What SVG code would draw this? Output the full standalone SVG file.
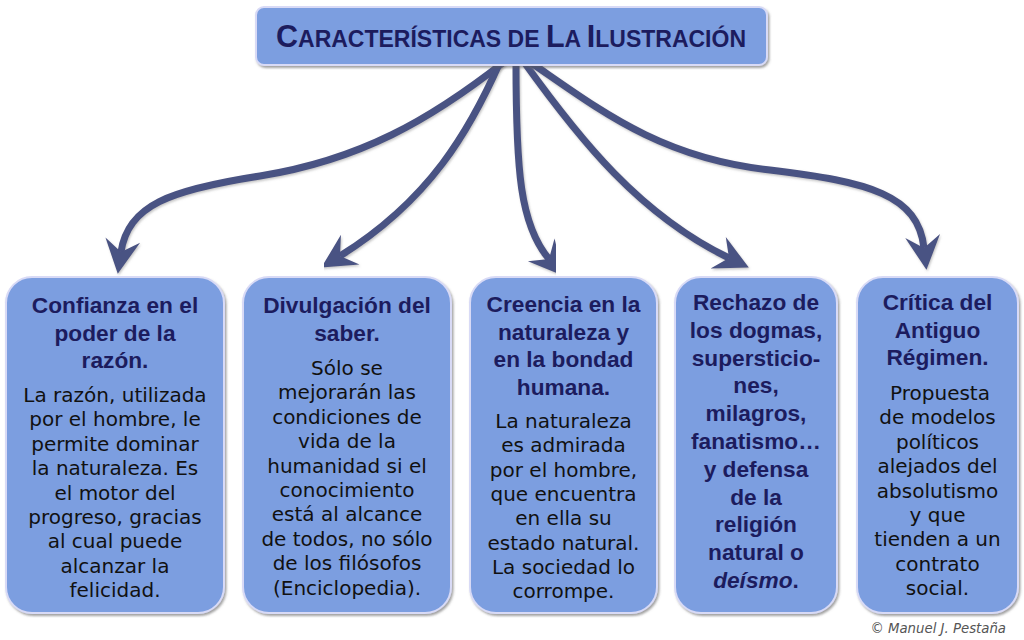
<svg xmlns="http://www.w3.org/2000/svg" width="1024" height="640" viewBox="0 0 1024 640">
<defs>
<filter id="sh" x="-10%" y="-10%" width="130%" height="130%">
<feDropShadow dx="1.5" dy="2" stdDeviation="1.2" flood-color="#555" flood-opacity="0.55"/>
</filter>
<filter id="lsh" x="-10%" y="-10%" width="130%" height="130%">
<feDropShadow dx="1" dy="1.5" stdDeviation="0.8" flood-color="#888" flood-opacity="0.5"/>
</filter>
<marker id="ah" markerUnits="userSpaceOnUse" markerWidth="40" markerHeight="40" viewBox="-14 -20 40 40" refX="0" refY="0" orient="auto">
<path d="M22,0 L-12,-17.5 L0,0 L-12,17.5 Z" fill="#4a5283"/>
</marker>
<style>
.box{fill:#7b9ee0;stroke:#d8daf6;stroke-width:2;filter:url(#sh)}
.hd{font-family:"Liberation Sans",Arial,sans-serif;font-weight:bold;font-size:22.7px;fill:#1c1c5e;text-anchor:middle}
.bd{font-family:"DejaVu Sans",Verdana,sans-serif;font-size:20px;fill:#111;text-anchor:middle}
.cn{fill:none;stroke:#4a5283;stroke-width:7;marker-end:url(#ah);filter:url(#lsh)}
</style>
</defs>
<rect width="1024" height="640" fill="#fff"/>
<g id="connectors">
<path class="cn" d="M504,62 C430,120 360,160 260,176 C170,190 128,205 121,252"/>
<path class="cn" d="M500,62 C470,130 430,200 340,256"/>
<path class="cn" d="M516,62 C516,170 520,225 549,259"/>
<path class="cn" d="M524,62 C580,140 640,215 729,258"/>
<path class="cn" d="M530,62 C600,110 660,158 770,170 C870,182 918,195 924,248"/>
</g>
<g id="title">
<rect class="box" x="256" y="7" width="511" height="58" rx="8"/>
<text x="511" y="47" font-family="'Liberation Sans',Arial,sans-serif" font-weight="bold" font-size="23" fill="#1c1c5e" text-anchor="middle"><tspan font-size="30.5">C</tspan>ARACTERÍSTICAS DE <tspan font-size="30.5">L</tspan>A <tspan font-size="30.5">I</tspan>LUSTRACIÓN</text>
</g>
<g id="n1">
<rect class="box" x="6" y="277" width="218" height="336" rx="26"/>
<text class="hd"><tspan x="115" y="313">Confianza en el</tspan><tspan x="115" y="340.5">poder de la</tspan><tspan x="115" y="368">razón.</tspan></text>
<text class="bd"><tspan x="115" y="402">La razón, utilizada</tspan><tspan x="115" y="426.4">por el hombre, le</tspan><tspan x="115" y="450.8">permite dominar</tspan><tspan x="115" y="475.2">la naturaleza. Es</tspan><tspan x="115" y="499.6">el motor del</tspan><tspan x="115" y="524">progreso, gracias</tspan><tspan x="115" y="548.4">al cual puede</tspan><tspan x="115" y="572.8">alcanzar la</tspan><tspan x="115" y="597.2">felicidad.</tspan></text>
</g>
<g id="n2">
<rect class="box" x="243" y="277" width="208" height="336" rx="26"/>
<text class="hd"><tspan x="347" y="313">Divulgación del</tspan><tspan x="347" y="340.5">saber.</tspan></text>
<text class="bd"><tspan x="347" y="375">Sólo se</tspan><tspan x="347" y="399.4">mejorarán las</tspan><tspan x="347" y="423.8">condiciones de</tspan><tspan x="347" y="448.2">vida de la</tspan><tspan x="347" y="472.6">humanidad si el</tspan><tspan x="347" y="497">conocimiento</tspan><tspan x="347" y="521.4">está al alcance</tspan><tspan x="347" y="545.8">de todos, no sólo</tspan><tspan x="347" y="570.2">de los filósofos</tspan><tspan x="347" y="594.6">(Enciclopedia).</tspan></text>
</g>
<g id="n3">
<rect class="box" x="470" y="277" width="187" height="336" rx="26"/>
<text class="hd"><tspan x="563.5" y="312">Creencia en la</tspan><tspan x="563.5" y="339.5">naturaleza y</tspan><tspan x="563.5" y="367">en la bondad</tspan><tspan x="563.5" y="394.5">humana.</tspan></text>
<text class="bd"><tspan x="563.5" y="428">La naturaleza</tspan><tspan x="563.5" y="452.3">es admirada</tspan><tspan x="563.5" y="476.6">por el hombre,</tspan><tspan x="563.5" y="500.9">que encuentra</tspan><tspan x="563.5" y="525.2">en ella su</tspan><tspan x="563.5" y="549.5">estado natural.</tspan><tspan x="563.5" y="573.8">La sociedad lo</tspan><tspan x="563.5" y="598.1">corrompe.</tspan></text>
</g>
<g id="n4">
<rect class="box" x="675" y="277" width="162" height="336" rx="26"/>
<text class="hd"><tspan x="756" y="310">Rechazo de</tspan><tspan x="756" y="337.8">los dogmas,</tspan><tspan x="756" y="365.6">supersticio-</tspan><tspan x="756" y="393.4">nes,</tspan><tspan x="756" y="421.2">milagros,</tspan><tspan x="756" y="449">fanatismo…</tspan><tspan x="756" y="476.8">y defensa</tspan><tspan x="756" y="504.6">de la</tspan><tspan x="756" y="532.4">religión</tspan><tspan x="756" y="560.2">natural o</tspan><tspan x="756" y="588"><tspan font-style="italic">deísmo</tspan>.</tspan></text>
</g>
<g id="n5">
<rect class="box" x="857" y="277" width="161" height="336" rx="26"/>
<text class="hd"><tspan x="937.5" y="310">Crítica del</tspan><tspan x="937.5" y="337.5">Antiguo</tspan><tspan x="937.5" y="365">Régimen.</tspan></text>
<text class="bd"><tspan x="940" y="400">Propuesta</tspan><tspan x="937.5" y="424.4">de modelos</tspan><tspan x="937.5" y="448.8">políticos</tspan><tspan x="937.5" y="473.2">alejados del</tspan><tspan x="937.5" y="497.6">absolutismo</tspan><tspan x="937.5" y="522">y que</tspan><tspan x="937.5" y="546.4">tienden a un</tspan><tspan x="937.5" y="570.8">contrato</tspan><tspan x="937.5" y="595.2">social.</tspan></text>
</g>
<text x="1006" y="633" font-family="'DejaVu Sans',Verdana,sans-serif" font-style="italic" font-size="13.3" fill="#555" text-anchor="end">© Manuel J. Pestaña</text>
</svg>
